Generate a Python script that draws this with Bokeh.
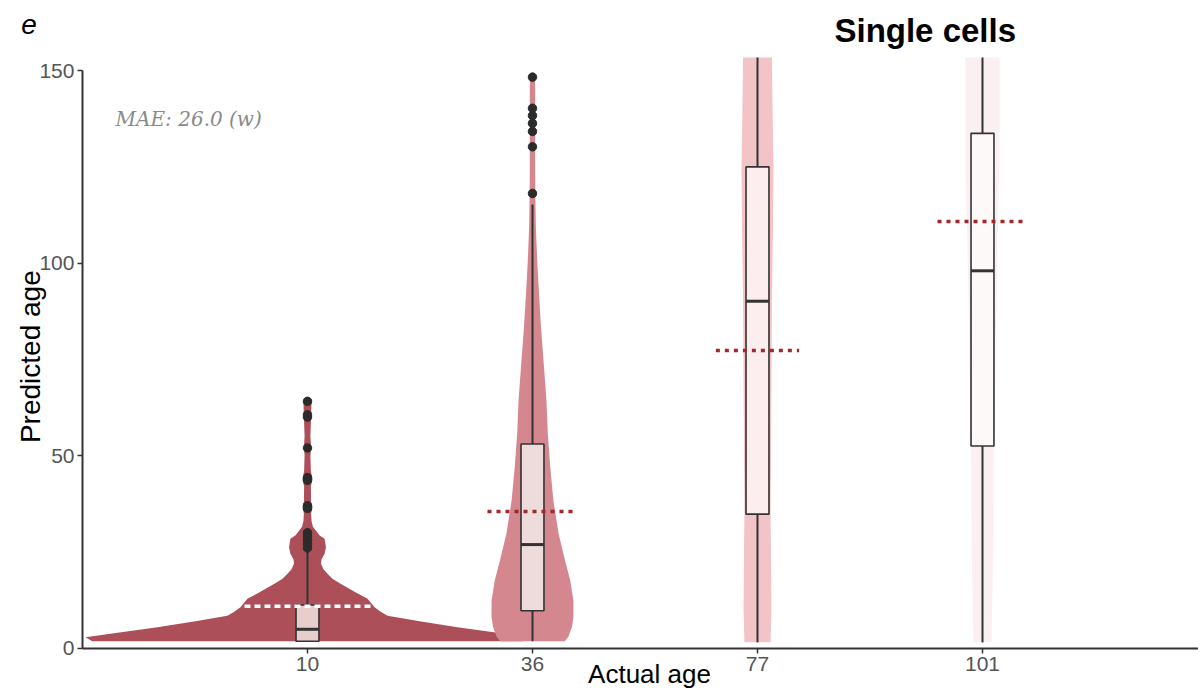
import math
from bokeh.plotting import figure
from bokeh.models import Range1d, FixedTicker, Label, ColumnDataSource
from bokeh.embed import file_html
from bokeh.resources import INLINE

# ---------------- data ----------------
categories = ["10", "36", "77", "101"]
positions = [1, 2, 3, 4]

# violin profiles: predicted age (y) and half-width (in category units)
v10_y = [1.8, 2.8, 4.0, 5.4, 7.0, 8.4, 9.3, 10.6, 12.8, 14.5, 16.7, 18.0, 19.3, 20.5,
         21.9, 23.0, 24.5, 26.2, 28.4, 29.3, 30.5, 31.5, 33.0, 35.0, 36.6, 38.0, 42.0,
         43.9, 46.0, 50.0, 52.0, 55.0, 60.0, 64.0, 64.7]
v10_w = [0.956, 0.987, 0.844, 0.667, 0.498, 0.356, 0.329, 0.298, 0.267, 0.213, 0.147,
         0.111, 0.089, 0.071, 0.060, 0.062, 0.076, 0.082, 0.076, 0.053, 0.038, 0.024,
         0.018, 0.016, 0.022, 0.016, 0.015, 0.022, 0.015, 0.013, 0.016, 0.013, 0.016,
         0.018, 0.0]
v36_y = [1.8, 3.0, 5.4, 8.0, 12.3, 17.5, 22.7, 29.7, 38.3, 47.0, 55.7, 64.3, 74.7, 83.3,
         92.0, 100.6, 109.3, 116.0, 125.0, 135.0, 145.0, 148.5, 149.0]
v36_w = [0.144, 0.160, 0.175, 0.182, 0.182, 0.168, 0.145, 0.116, 0.093, 0.079, 0.068,
         0.062, 0.049, 0.038, 0.029, 0.021, 0.015, 0.013, 0.012, 0.012, 0.012, 0.011, 0.0]
# the two oldest groups run past the top of the panel (visible up to ~153.4)
v77_y = [1.5, 10.0, 25.0, 35.0, 50.0, 70.0, 90.0, 110.0, 125.0, 140.0, 153.4]
v77_w = [0.058, 0.062, 0.060, 0.058, 0.060, 0.062, 0.064, 0.069, 0.071, 0.067, 0.064]
v101_y = [1.5, 25.0, 47.0, 70.0, 90.0, 110.0, 125.0, 140.0, 153.4]
v101_w = [0.040, 0.048, 0.050, 0.056, 0.062, 0.069, 0.076, 0.076, 0.076]

violins_y = [v10_y, v36_y, v77_y, v101_y]
violins_w = [v10_w, v36_w, v77_w, v101_w]

# box-plot statistics
whisker_low = [1.8, 1.8, 1.5, 1.5]
q1 = [1.8, 9.7, 34.8, 52.5]
median = [4.9, 26.9, 90.1, 98.0]
q3 = [11.2, 53.0, 125.0, 133.7]
whisker_high = [25.0, 115.2, 153.4, 153.4]
means = [10.9, 35.5, 77.3, 110.8]

outliers_10 = [64.1, 60.6, 60.0, 52.0, 44.3, 43.6, 37.0, 36.3, 30.0, 29.0, 28.0, 27.0, 26.0]
outliers_36 = [148.3, 140.2, 138.3, 136.3, 134.2, 130.2, 118.1]

y_ticks = [0, 50, 100, 150]
mae_text = "MAE: 26.0 (w)"
title_text = "Single cells"
panel_tag = "e"
x_label = "Actual age"
y_label = "Predicted age"

# ---------------- style ----------------
violin_colors = ["#AD4F58", "#D5878F", "#F2C3C7", "#FAF0F1"]
box_colors = ["#E8CDCD", "#EEDCDC", "#FCEDEE", "#FEF9F9"]
mean_colors = ["#FFFFFF", "#A3262A", "#A3262A", "#A3262A"]
mean_dash = ["6 4", "4 5", "4 5", "4 5"]
mean_half = [0.28, 0.20, 0.185, 0.20]
BOX_HALF = 0.051
DARK = "#333333"

p = figure(width=1198, height=690, output_backend="svg", toolbar_location=None,
           x_range=Range1d(-0.3644, 4.96), y_range=Range1d(-11.0, 168.2),
           min_border=0)
p.outline_line_color = None
p.xgrid.grid_line_color = None
p.ygrid.grid_line_color = None
p.background_fill_color = "white"

# violins
for pos, ys, ws, col in zip(positions, violins_y, violins_w, violin_colors):
    xs = [pos + w for w in ws] + [pos - w for w in reversed(ws)]
    yy = list(ys) + list(reversed(ys))
    p.patch(xs, yy, fill_color=col, line_color=None)

# whiskers
p.segment(x0=positions, y0=whisker_low, x1=positions, y1=q1, line_color=DARK, line_width=2)
p.segment(x0=positions, y0=q3, x1=positions, y1=whisker_high, line_color=DARK, line_width=2)

# boxes
src = ColumnDataSource(dict(left=[x - BOX_HALF for x in positions],
                            right=[x + BOX_HALF for x in positions],
                            bottom=q1, top=q3, fill=box_colors))
p.quad(left="left", right="right", bottom="bottom", top="top", fill_color="fill",
       line_color=DARK, line_width=1.6, source=src)
p.segment(x0=[x - BOX_HALF for x in positions], y0=median,
          x1=[x + BOX_HALF for x in positions], y1=median,
          line_color=DARK, line_width=3)

# outliers
p.scatter([positions[0]] * len(outliers_10), outliers_10, size=8.5, color="#2B2B2B")
p.scatter([positions[1]] * len(outliers_36), outliers_36, size=8.5, color="#2B2B2B")

# mean lines
for pos, m, c, d, h in zip(positions, means, mean_colors, mean_dash, mean_half):
    p.segment(x0=[pos - h], y0=[m], x1=[pos + h], y1=[m], line_color=c,
              line_width=3.4, line_dash=d)

# axes (fixed at the data origin, so the panel fills the whole canvas)
for ax in (p.xaxis[0], p.yaxis[0]):
    ax.fixed_location = 0
    ax.axis_line_color = DARK
    ax.axis_line_width = 2
    ax.major_tick_line_color = DARK
    ax.major_tick_line_width = 1.5
    ax.major_tick_out = 5
    ax.major_tick_in = 0
    ax.minor_tick_line_color = None
    ax.major_label_text_font = "Liberation Sans"
    ax.major_label_text_font_size = "21px"
    ax.major_label_text_color = "#555555"
p.xaxis.ticker = FixedTicker(ticks=positions)
p.xaxis.major_label_overrides = {pos: lab for pos, lab in zip(positions, categories)}
p.xaxis.major_label_standoff = 4
p.xaxis.bounds = (0, 4.96)
p.yaxis.ticker = FixedTicker(ticks=y_ticks)
p.yaxis.bounds = (0, 150)
p.yaxis.major_label_standoff = 3

# texts
p.add_layout(Label(x=0.147, y=137.3, text=mae_text, text_font="DejaVu Serif",
                   text_font_style="italic", text_font_size="20px",
                   text_color="#8A8A8A", text_baseline="alphabetic"))
p.add_layout(Label(x=-0.272, y=162.0, text=panel_tag, text_font="Liberation Sans",
                   text_font_style="italic", text_font_size="28px",
                   text_color="black", text_baseline="alphabetic"))
p.add_layout(Label(x=3.342, y=160.4, text=title_text, text_font="Liberation Sans",
                   text_font_style="bold", text_font_size="33px",
                   text_color="black", text_baseline="alphabetic"))
p.add_layout(Label(x=2.52, y=-6.7, text=x_label, text_font="Liberation Sans",
                   text_font_size="26px", text_color="black", text_align="center",
                   text_baseline="alphabetic"))
p.add_layout(Label(x=-0.232, y=75.7, text=y_label, text_font="Liberation Sans",
                   text_font_size="28px", text_color="black", text_align="center",
                   text_baseline="alphabetic", angle=math.pi / 2))

open("out.html", "w").write(file_html(p, INLINE))
